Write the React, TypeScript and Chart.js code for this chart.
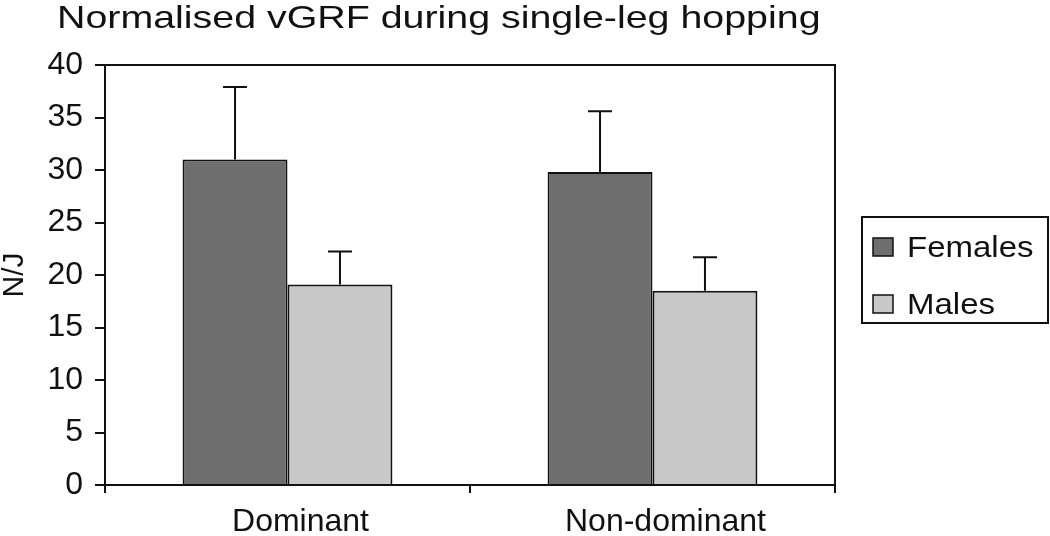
import React, { useEffect, useRef } from "react";
import { Chart, registerables } from "chart.js";

Chart.register(...registerables);

const TITLE = "Normalised vGRF during single-leg hopping";
const Y_TITLE = "N/J";
const categories = ["Dominant", "Non-dominant"];
const seriesNames = ["Females", "Males"];
const femalesMean = [31.0, 29.8];
const femalesSD = [6.9, 5.8];
const malesMean = [19.1, 18.5];
const malesSD = [3.15, 3.2];
const yTicks = [0, 5, 10, 15, 20, 25, 30, 35, 40];

const FONT = "'Liberation Sans', Arial, Helvetica, sans-serif";
const colors = ["#6e6e6e", "#c8c8c8"];
const errors = [femalesSD, malesSD];

const chromePlugin = {
  id: "chrome",
  beforeDraw(chart: any) {
    const { ctx, width, height } = chart;
    ctx.save();
    ctx.fillStyle = "#ffffff";
    ctx.fillRect(0, 0, width, height);
    ctx.restore();
  },
  afterDatasetsDraw(chart: any) {
    const { ctx } = chart;
    const yScale = chart.scales.y;
    ctx.save();
    ctx.strokeStyle = "#111";
    ctx.lineWidth = 2;
    chart.data.datasets.forEach((ds: any, i: number) => {
      const meta = chart.getDatasetMeta(i);
      meta.data.forEach((bar: any, j: number) => {
        const v = ds.data[j];
        const e = errors[i][j];
        const yTop = yScale.getPixelForValue(v + e);
        const x = bar.x;
        ctx.beginPath();
        ctx.moveTo(x, bar.y);
        ctx.lineTo(x, yTop);
        ctx.moveTo(x - 12, yTop);
        ctx.lineTo(x + 12, yTop);
        ctx.stroke();
      });
    });
    ctx.restore();
  },
  afterDraw(chart: any) {
    const { ctx, chartArea } = chart;
    ctx.save();
    // frame top & right
    ctx.strokeStyle = "#111";
    ctx.lineWidth = 2;
    ctx.beginPath();
    ctx.moveTo(chartArea.left, chartArea.top);
    ctx.lineTo(chartArea.right, chartArea.top);
    ctx.lineTo(chartArea.right, chartArea.bottom);
    ctx.stroke();

    // title
    ctx.fillStyle = "#111";
    ctx.font = `32px ${FONT}`;
    ctx.textBaseline = "alphabetic";
    ctx.textAlign = "left";
    ctx.translate(57, 28);
    ctx.scale(1.23, 1);
    ctx.fillText(TITLE, 0, 0);
    ctx.setTransform(1, 0, 0, 1, 0, 0);

    // legend
    const bx = 862, by = 217, bw = 186, bh = 106;
    ctx.lineWidth = 2;
    ctx.strokeStyle = "#111";
    ctx.strokeRect(bx, by, bw, bh);
    const rows = [247, 304];
    chart.data.datasets.forEach((ds: any, i: number) => {
      const cy = rows[i];
      ctx.fillStyle = ds.backgroundColor;
      ctx.fillRect(873, cy - 9, 20, 18);
      ctx.lineWidth = 1.5;
      ctx.strokeRect(873, cy - 9, 20, 18);
      ctx.fillStyle = "#111";
      ctx.font = `30px ${FONT}`;
      ctx.save();
      ctx.translate(907, cy + 10);
      ctx.scale(1.1, 1);
      ctx.fillText(ds.label, 0, 0);
      ctx.restore();
    });
    ctx.restore();
  },
};

export default function App() {
  const ref = useRef<HTMLCanvasElement | null>(null);
  useEffect(() => {
    document.body.style.margin = "0";
    const canvas = ref.current!;
    const chart = new Chart(canvas, {
      type: "bar",
      data: {
        labels: categories,
        datasets: [
          {
            label: seriesNames[0],
            data: femalesMean,
            backgroundColor: colors[0],
            borderColor: "#111",
            borderWidth: 2,
          },
          {
            label: seriesNames[1],
            data: malesMean,
            backgroundColor: colors[1],
            borderColor: "#111",
            borderWidth: 2,
          },
        ],
      },
      options: {
        responsive: false,
        animation: false,
        devicePixelRatio: 1,
        layout: { padding: { top: 65, right: 215, left: 0, bottom: 0 } },
        plugins: {
          legend: { display: false },
          title: { display: false },
          tooltip: { enabled: false },
        },
        datasets: {
          bar: { categoryPercentage: 0.575, barPercentage: 1.0 },
        },
        scales: {
          x: {
            offset: true,
            grid: {
              display: true,
              offset: true,
              drawOnChartArea: false,
              drawTicks: true,
              tickLength: 8,
              color: "#111",
              lineWidth: 2,
            },
            border: { display: true, color: "#111", width: 2 },
            ticks: {
              color: "#111",
              font: { family: FONT, size: 32 },
              padding: 10,
              labelOffset: 13,
            },
            afterFit(s: any) {
              s.height = 51;
            },
          },
          y: {
            min: 0,
            max: 40,
            afterBuildTicks(s: any) {
              s.ticks = yTicks.map((v) => ({ value: v }));
            },
            grid: {
              display: true,
              drawOnChartArea: false,
              drawTicks: true,
              tickLength: 10,
              color: "#111",
              lineWidth: 2,
            },
            border: { display: true, color: "#111", width: 2 },
            ticks: {
              color: "#111",
              font: { family: FONT, size: 32 },
              padding: 12,
            },
            title: {
              display: true,
              text: Y_TITLE,
              color: "#111",
              font: { family: FONT, size: 30, lineHeight: 1 },
              padding: 0,
            },
            afterFit(s: any) {
              s.width = 105;
            },
          },
        },
      },
      plugins: [chromePlugin],
    });
    return () => chart.destroy();
  }, []);
  return <canvas ref={ref} width={1050} height={536} style={{ display: "block" }} />;
}
